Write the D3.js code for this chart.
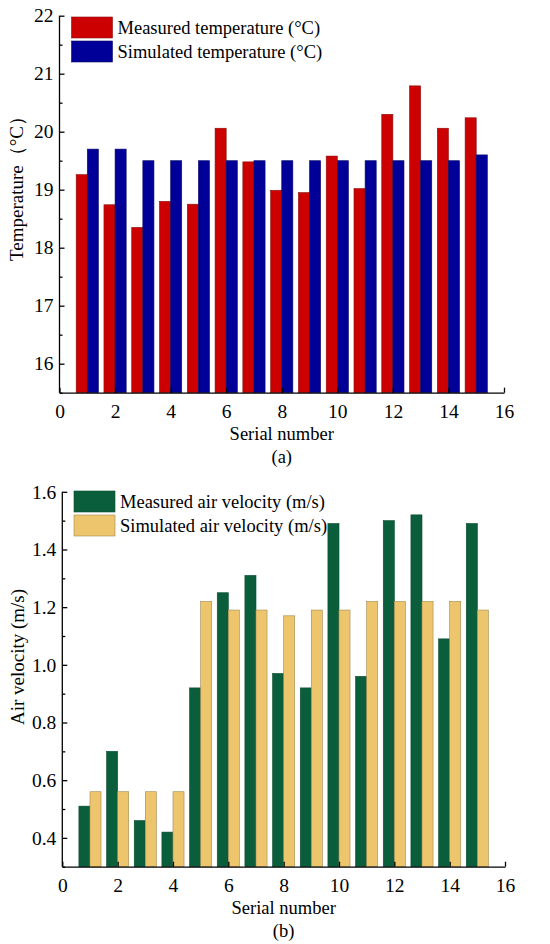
<!DOCTYPE html>
<html>
<head>
<meta charset="utf-8">
<script src="https://cdn.jsdelivr.net/npm/d3@7"></script>
<style>
    body { margin: 0; background: #fff; }
    svg { font-family: "Times New Roman", "Liberation Serif", serif; }
    .axis path, .axis line { stroke: #000; stroke-width: 1.3; }
    .axis text { font-size: 19.5px; fill: #000; font-family: "Times New Roman", "Liberation Serif", serif; }
</style>
</head>
<body>
<div id="vis"></div>
<script>
// chart values
const SERIAL = [1, 2, 3, 4, 5, 6, 7, 8, 9, 10, 11, 12, 13, 14, 15];
const TEMP_MEASURED = [19.26, 18.74, 18.35, 18.8, 18.75, 20.06, 19.48, 18.99, 18.95, 19.58, 19.02, 20.3, 20.79, 20.06, 20.24];
const TEMP_SIMULATED = [19.7, 19.7, 19.5, 19.5, 19.5, 19.5, 19.5, 19.5, 19.5, 19.5, 19.5, 19.5, 19.5, 19.5, 19.6];
const VEL_MEASURED = [0.51, 0.70, 0.46, 0.42, 0.92, 1.25, 1.31, 0.97, 0.92, 1.49, 0.96, 1.50, 1.52, 1.09, 1.49];
const VEL_SIMULATED = [0.56, 0.56, 0.56, 0.56, 1.22, 1.19, 1.19, 1.17, 1.19, 1.19, 1.22, 1.22, 1.22, 1.22, 1.19];
const X_TICKS = [0, 2, 4, 6, 8, 10, 12, 14, 16];
const TEMP_TICKS = [16, 17, 18, 19, 20, 21, 22];
const VEL_TICKS = [0.4, 0.6, 0.8, 1.0, 1.2, 1.4, 1.6];

const FRAME_WIDTH = 550;
const FRAME_HEIGHT = 944;
const BAR_W = 0.4;
const FONT = "18.5px";

const FRAME = d3.select("#vis")
                .append("svg")
                    .attr("width", FRAME_WIDTH)
                    .attr("height", FRAME_HEIGHT);

function build_panel(p) {

    const X_SCALE = d3.scaleLinear().domain([0, 16]).range([p.left, p.right]);
    const Y_SCALE = d3.scaleLinear().domain(p.yDomain).range([p.bottom, p.top]);

    // bars, measured left of the serial number, simulated right
    const rows = SERIAL.map((s, i) => ({s: s, m: p.measured[i], sim: p.simulated[i]}));

    FRAME.append("g").selectAll("rect")
        .data(rows)
        .enter()
        .append("rect")
            .attr("x", (d) => X_SCALE(d.s - BAR_W))
            .attr("y", (d) => Y_SCALE(d.m))
            .attr("width", (d) => X_SCALE(d.s) - X_SCALE(d.s - BAR_W))
            .attr("height", (d) => Y_SCALE(p.yDomain[0]) - Y_SCALE(d.m))
            .attr("fill", p.colors[0])
            .attr("stroke", p.strokes[0])
            .attr("stroke-width", 0.6);

    FRAME.append("g").selectAll("rect")
        .data(rows)
        .enter()
        .append("rect")
            .attr("x", (d) => X_SCALE(d.s))
            .attr("y", (d) => Y_SCALE(d.sim))
            .attr("width", (d) => X_SCALE(d.s + BAR_W) - X_SCALE(d.s))
            .attr("height", (d) => Y_SCALE(p.yDomain[0]) - Y_SCALE(d.sim))
            .attr("fill", p.colors[1])
            .attr("stroke", p.strokes[1])
            .attr("stroke-width", 0.6);

    // minor y ticks
    FRAME.append("g")
        .attr("class", "axis")
        .attr("transform", "translate(" + p.left + ",0)")
        .call(d3.axisLeft(Y_SCALE).tickValues(p.minor).tickSize(-3).tickFormat(""))
        .call((g) => g.select(".domain").remove());

    // y axis, ticks pointing inward
    FRAME.append("g")
        .attr("class", "axis")
        .attr("transform", "translate(" + p.left + ",0)")
        .call(d3.axisLeft(Y_SCALE).tickValues(p.yTicks).tickSizeInner(-5).tickSizeOuter(0)
              .tickPadding(6).tickFormat(p.fmt))
        .call((g) => g.select(".domain").attr("d", "M0," + p.bottom + "V" + Y_SCALE(p.yDomain[1])));

    // x axis
    FRAME.append("g")
        .attr("class", "axis")
        .attr("transform", "translate(0," + p.bottom + ")")
        .call(d3.axisBottom(X_SCALE).tickValues(X_TICKS).tickSizeInner(-5).tickSizeOuter(0)
              .tickPadding(9))
        .call((g) => g.selectAll("text").attr("dy", "0.85em"));

    // axis titles
    FRAME.append("text")
        .attr("x", (p.left + p.right) / 2)
        .attr("y", p.bottom + 47)
        .attr("text-anchor", "middle")
        .attr("font-size", FONT)
        .text("Serial number");

    FRAME.append("text")
        .attr("x", (p.left + p.right) / 2)
        .attr("y", p.bottom + 70)
        .attr("text-anchor", "middle")
        .attr("font-size", FONT)
        .text(p.caption);

    FRAME.append("text")
        .attr("transform", "translate(" + p.titleX + "," + p.titleY + ") rotate(-90)")
        .attr("text-anchor", "middle")
        .attr("dy", "0.35em")
        .attr("font-size", "19px")
        .text(p.yTitle);

    // legend
    p.legend.forEach((name, i) => {
        FRAME.append("rect")
            .attr("x", p.legX)
            .attr("y", p.legY + i * 24)
            .attr("width", 41)
            .attr("height", 21)
            .attr("fill", p.colors[i])
            .attr("stroke", p.strokes[i])
            .attr("stroke-width", 0.6);
        FRAME.append("text")
            .attr("x", p.legX + 46)
            .attr("y", p.legY + i * 24 + 17)
            .attr("font-size", FONT)
            .text(name);
    });
}

build_panel({
    left: 59.5, right: 504, top: 15.7, bottom: 392.7,
    yDomain: [15.5, 22], yTicks: TEMP_TICKS,
    minor: [15.5, 16.5, 17.5, 18.5, 19.5, 20.5, 21.5],
    fmt: d3.format("d"),
    measured: TEMP_MEASURED, simulated: TEMP_SIMULATED,
    colors: ["#CC0000", "#000099"], strokes: ["#8a1010", "#0a0a66"],
    legend: ["Measured temperature (°C)", "Simulated temperature (°C)"],
    legX: 71.5, legY: 17,
    yTitle: "Temperature（°C）", titleX: 16, titleY: 184,
    caption: "(a)"
});

build_panel({
    left: 62.3, right: 505, top: 491.8, bottom: 866.7,
    yDomain: [0.3, 1.6], yTicks: VEL_TICKS,
    minor: [0.3, 0.5, 0.7, 0.9, 1.1, 1.3, 1.5],
    fmt: d3.format(".1f"),
    measured: VEL_MEASURED, simulated: VEL_SIMULATED,
    colors: ["#0B5E3B", "#EDC56C"], strokes: ["#0a4a2e", "#a08a55"],
    legend: ["Measured air velocity (m/s)", "Simulated air velocity (m/s)"],
    legX: 74, legY: 491,
    yTitle: "Air velocity (m/s)", titleX: 17, titleY: 657,
    caption: "(b)"
});
</script>
</body>
</html>
